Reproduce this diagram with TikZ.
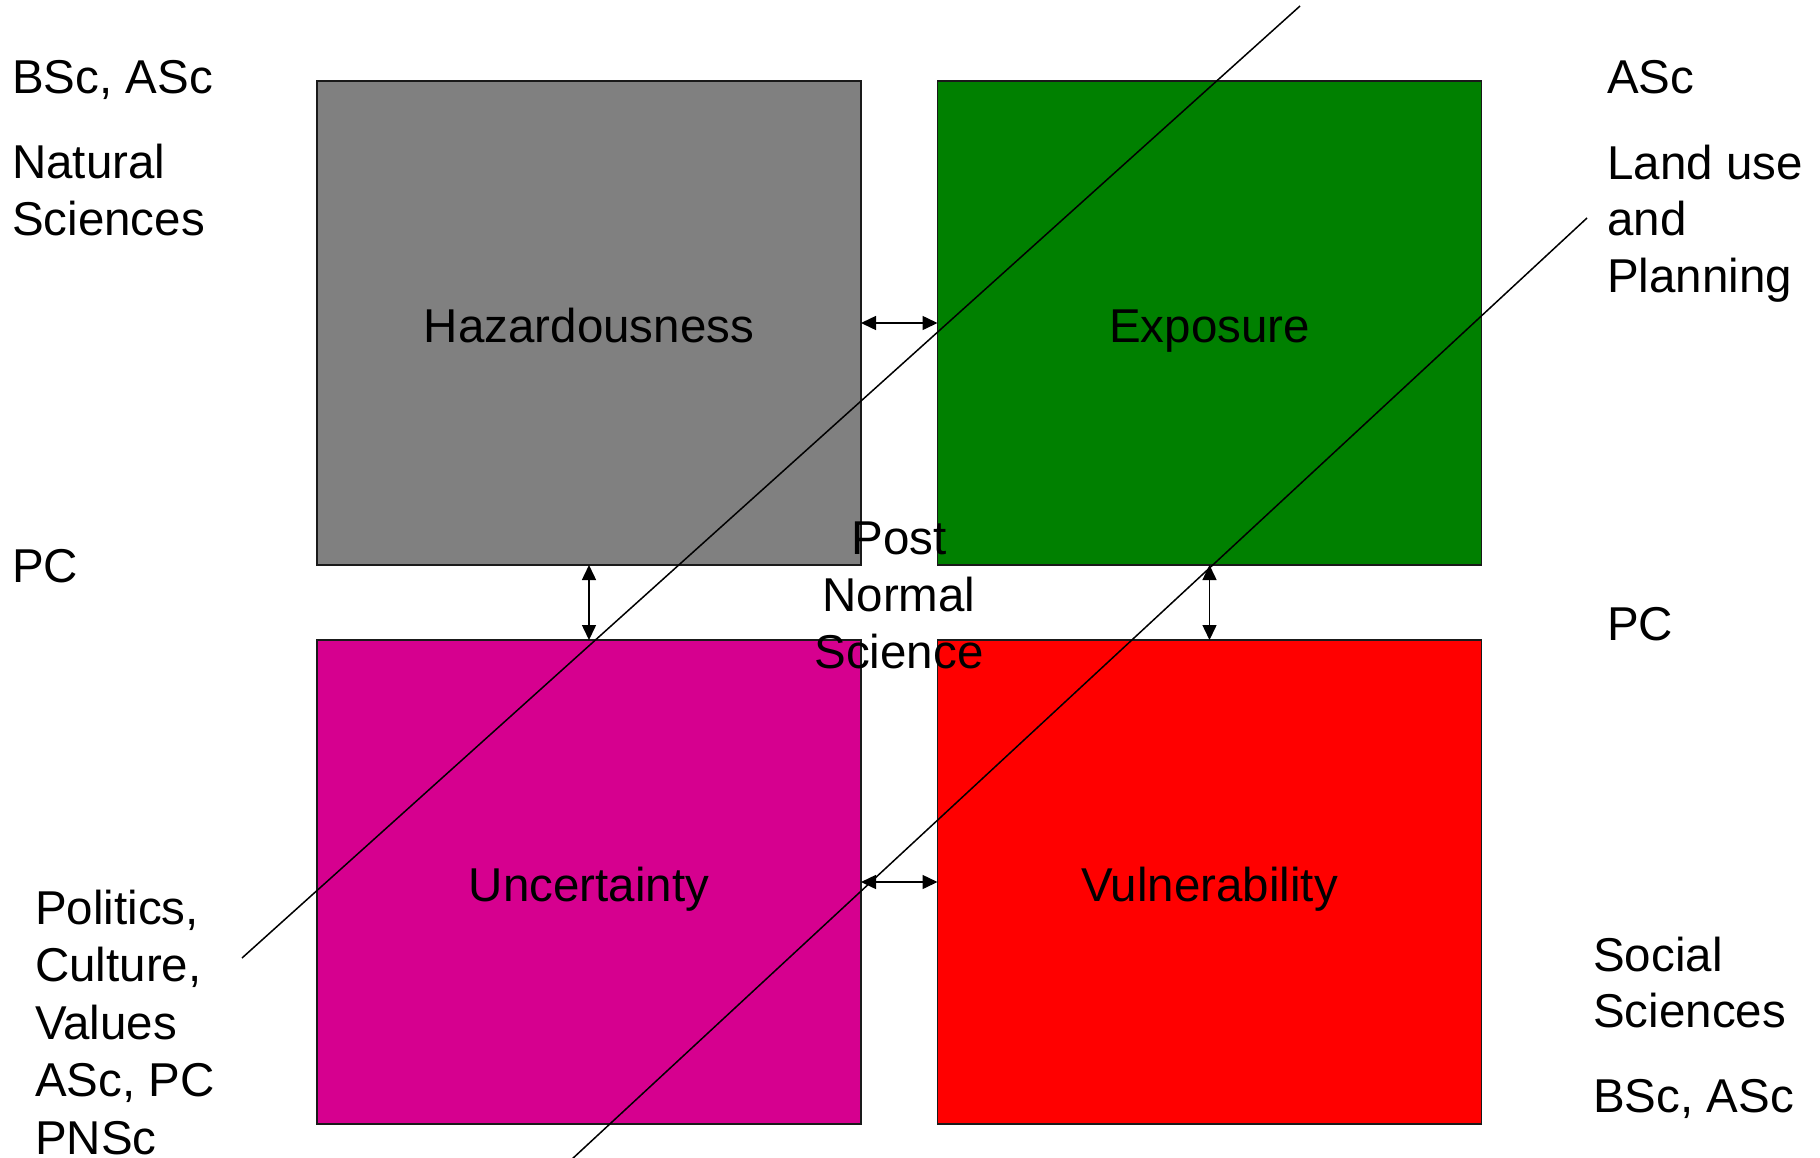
\documentclass[tikz,border=0pt]{standalone}
\usepackage{fontspec}
\setmainfont{Liberation Sans}
\usepackage{tikz}
\usepackage{xcolor}
\usetikzlibrary{arrows.meta,positioning}
\definecolor{hazgray} {HTML}{808080}
\definecolor{expgreen}{HTML}{008000}
\definecolor{uncmag}  {HTML}{D6008F}
\definecolor{vulred}  {HTML}{FF0000}
\definecolor{edge}    {HTML}{1A1A1A}
\tikzset{
  riskbox/.style  ={draw=edge, line width=1.5pt, rectangle,
                    minimum width=544pt, minimum height=484pt,
                    inner sep=0pt, outer sep=0pt,
                    text height=48pt, text depth=10pt,
                    font=\fontsize{47.5}{57}\selectfont},
  sidetext/.style ={anchor=base west, align=left, inner sep=0pt,
                    font=\fontsize{47.5}{57}\selectfont},
  dblarr/.style   ={{Triangle[length=15pt,width=14pt]}-{Triangle[length=15pt,width=14pt]},
                    line width=1.5pt},
  cutline/.style  ={line width=1.5pt},
}
\begin{document}
\begin{tikzpicture}[x=1pt,y=-1pt]
        \clip (0,0) rectangle (1820,1157);
        \fill[white] (0,0) rectangle (1820,1157);

        \node[riskbox,fill=hazgray]  (haz) at (589,323)    {Hazardousness};
        \node[riskbox,fill=expgreen] (exp) at (1209.5,323) {Exposure};
        \node[riskbox,fill=uncmag]   (unc) at (589,882)    {Uncertainty};
        \node[riskbox,fill=vulred]   (vul) at (1209.5,882) {Vulnerability};

        \draw[dblarr] (haz.east) -- (exp.west);
        \draw[dblarr] (unc.east) -- (vul.west);
        \draw[dblarr] (haz.south) -- (unc.north);
        \draw[dblarr] (exp.south) -- (vul.north);

        % the two diagonal cuts
        \coordinate (c1a) at (242,958);
        \coordinate (c1b) at (1300,6);
        \coordinate (c2a) at (571,1160);
        \coordinate (c2b) at (1587,218);
        \draw[cutline] (c1a) -- (c1b);
        \draw[cutline] (c2a) -- (c2b);

        % multi-line texts sit on the baseline of their last line
        \node[sidetext,anchor=base,align=center] (pns) at (899,668) {Post\\Normal\\Science};

        \node[sidetext] (tl1) at (12,93)   {BSc, ASc};
        \node[sidetext] (tl2) at (12,235)  {Natural\\Sciences};
        \node[sidetext] (ml)  at (12,582)  {PC};
        \node[sidetext,font=\fontsize{47.5}{57.5}\selectfont] (bl) at (35,1154)
          {Politics,\\Culture,\\Values\\ASc, PC\\PNSc};

        \node[sidetext] (tr1) at (1607,93)  {ASc};
        \node[sidetext,font=\fontsize{47.5}{56.5}\selectfont] (tr2) at (1607,292)
          {Land use\\and\\Planning};
        \node[sidetext] (mr)  at (1607,640) {PC};
        \node[sidetext,font=\fontsize{47.5}{56}\selectfont] (br1) at (1593,1027)
          {Social\\Sciences};
        \node[sidetext] (br2) at (1593,1112) {BSc, ASc};
      \end{tikzpicture}
\end{document}
